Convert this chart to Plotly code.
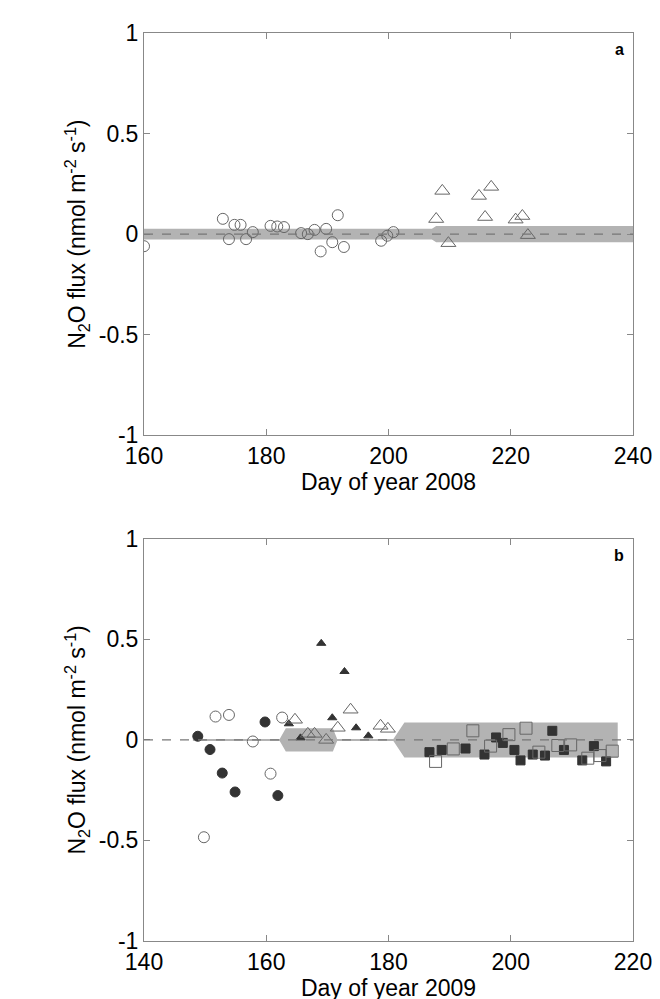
import plotly.graph_objects as go
from plotly.subplots import make_subplots

# panel a (2008)
a_circ_x = [160, 172.9, 173.9, 174.8, 175.8, 176.7, 177.8, 180.7, 181.8, 182.9, 185.7, 186.8, 187.9, 188.9, 189.8, 190.8, 191.7, 192.7, 198.8, 199.8, 200.8]
a_circ_y = [-0.06, 0.076, -0.025, 0.046, 0.046, -0.025, 0.01, 0.041, 0.038, 0.035, 0.005, 0.0, 0.021, -0.086, 0.026, -0.04, 0.094, -0.064, -0.033, -0.008, 0.01]
a_tri_x = [207.8, 208.8, 209.8, 214.8, 215.8, 216.8, 220.8, 221.9, 222.8]
a_tri_y = [0.075, 0.215, -0.045, 0.19, 0.085, 0.235, 0.072, 0.09, -0.005]
a_band_x = [160, 207.1, 207.8, 240]
a_band_h = [0.027, 0.027, 0.04, 0.04]

# panel b (2009)
b_fcirc_x = [148.8, 150.8, 152.8, 154.9, 159.8, 161.9]
b_fcirc_y = [0.018, -0.048, -0.165, -0.259, 0.089, -0.277]
b_ocirc_x = [149.8, 151.7, 153.9, 157.8, 160.7, 162.6]
b_ocirc_y = [-0.484, 0.116, 0.124, -0.008, -0.168, 0.111]
b_ftri_x = [163.7, 165.6, 169.0, 170.8, 172.8, 174.7, 176.7]
b_ftri_y = [0.08, 0.01, 0.48, 0.11, 0.34, 0.06, 0.02]
b_otri_x = [164.7, 166.8, 167.9, 169.8, 171.7, 173.8, 178.7, 179.9]
b_otri_y = [0.1, 0.03, 0.03, 0.0, 0.06, 0.15, 0.07, 0.055]
b_fsq_x = [186.7, 188.7, 192.6, 195.7, 197.6, 198.7, 200.6, 201.6, 203.6, 205.6, 206.8, 208.7, 211.7, 213.6, 215.6]
b_fsq_y = [-0.061, -0.05, -0.043, -0.073, 0.012, -0.015, -0.05, -0.102, -0.073, -0.078, 0.045, -0.05, -0.102, -0.031, -0.107]
b_osq_x = [187.7, 190.6, 193.8, 196.7, 199.7, 202.5, 204.6, 207.7, 209.8, 212.6, 214.6, 216.6]
b_osq_y = [-0.107, -0.045, 0.045, -0.031, 0.026, 0.058, -0.061, -0.028, -0.025, -0.091, -0.078, -0.056]
b_band_x = [148, 162.2, 163.2, 170.9, 171.6, 180.8, 182.6, 217.5]
b_band_h = [0.005, 0.005, 0.058, 0.058, 0.005, 0.005, 0.087, 0.087]

fig = make_subplots(rows=2, cols=1, vertical_spacing=0.114)

def band(x, h, row):
    xs = list(x) + list(reversed(x))
    ys = list(h) + [-v for v in reversed(h)]
    fig.add_trace(go.Scatter(x=xs, y=ys, fill='toself', fillcolor='#b3b3b3', line=dict(width=0),
                             mode='lines', hoverinfo='skip'), row=row, col=1)

def pts(x, y, sym, filled, row, size=11):
    if filled:
        m = dict(symbol=sym, size=size, color='#333333', line=dict(color='#333333', width=1))
    else:
        m = dict(symbol=sym + '-open', size=size, color='#666666', line=dict(width=1))
    fig.add_trace(go.Scatter(x=x, y=y, mode='markers', marker=m), row=row, col=1)

band(a_band_x, a_band_h, 1)
fig.add_hline(y=0, line=dict(color='#777777', width=1.2, dash='dash'), row=1, col=1)
pts(a_circ_x, a_circ_y, 'circle', False, 1)
pts(a_tri_x, a_tri_y, 'triangle-up', False, 1, 13)

band(b_band_x, b_band_h, 2)
fig.add_hline(y=0, line=dict(color='#777777', width=1.2, dash='dash'), row=2, col=1)
pts(b_fcirc_x, b_fcirc_y, 'circle', True, 2, 10)
pts(b_ocirc_x, b_ocirc_y, 'circle', False, 2)
pts(b_ftri_x, b_ftri_y, 'triangle-up', True, 2, 8)
pts(b_otri_x, b_otri_y, 'triangle-up', False, 2, 13)
pts(b_fsq_x, b_fsq_y, 'square', True, 2, 9)
pts(b_osq_x, b_osq_y, 'square', False, 2, 12)

ax = dict(showgrid=False, zeroline=False, showline=True, mirror='ticks', linecolor='#888888',
          ticks='inside', ticklen=6, tickcolor='#888888', tickfont=dict(size=23, color='black'))
ytitle = 'N<sub>2</sub>O flux (nmol m<sup>-2</sup> s<sup>-1</sup>)'
fig.update_xaxes(**ax)
fig.update_yaxes(**ax)
fig.update_xaxes(range=[160, 240], tickvals=[160, 180, 200, 220, 240], row=1, col=1,
                 title=dict(text='Day of year 2008', font=dict(size=23), standoff=4))
fig.update_xaxes(range=[140, 220], tickvals=[140, 160, 180, 200, 220], row=2, col=1,
                 title=dict(text='Day of year 2009', font=dict(size=23), standoff=4))
fig.update_yaxes(range=[-1, 1], tickvals=[-1, -0.5, 0, 0.5, 1], ticktext=['-1', '-0.5', '0', '0.5', '1'],
                 title=dict(text=ytitle, font=dict(size=23), standoff=6))
fig.add_annotation(text='<b>a</b>', xref='x domain', yref='y domain', x=0.985, y=0.985,
                   showarrow=False, font=dict(size=16), xanchor='right', yanchor='top')
fig.add_annotation(text='<b>b</b>', xref='x2 domain', yref='y2 domain', x=0.985, y=0.985,
                   showarrow=False, font=dict(size=16), xanchor='right', yanchor='top')
fig.update_layout(width=660, height=999, showlegend=False, plot_bgcolor='white', paper_bgcolor='white',
                  margin=dict(l=136, r=35, t=20, b=64), font=dict(family='Liberation Sans', color='black'))
fig.write_html('out.html')
